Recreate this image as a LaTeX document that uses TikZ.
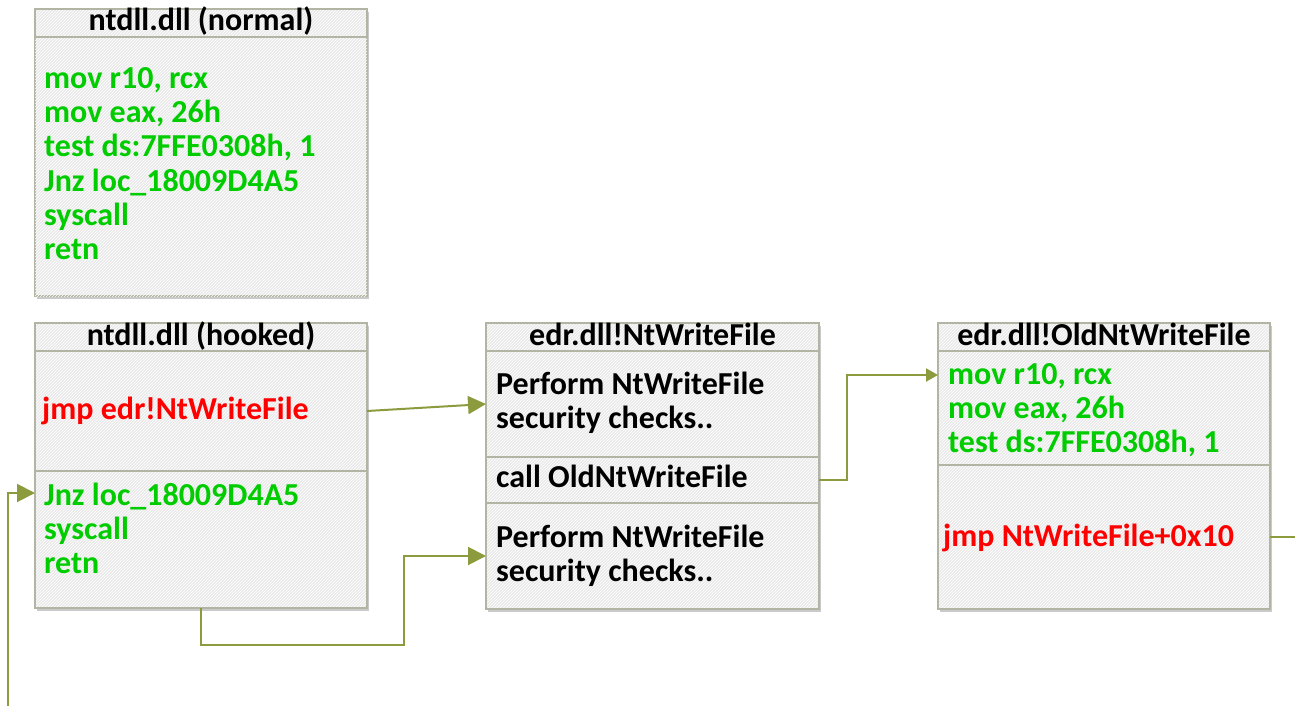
\documentclass[tikz,border=0pt]{standalone}
\usepackage{fontspec}
\setmainfont{Carlito}
\usetikzlibrary{arrows.meta,shadows,patterns,calc}

\definecolor{boxline}{RGB}{178,181,163}
\definecolor{boxfill}{RGB}{234,234,234}
\definecolor{flowcol}{RGB}{140,155,62}
\definecolor{asmgreen}{RGB}{0,204,0}
\definecolor{asmred}{RGB}{255,0,0}

\tikzset{
  frame/.style={draw=boxline, line width=1.5pt, fill=boxfill,
    postaction={pattern=north east lines, pattern color=white},
    drop shadow={shadow xshift=1.5pt, shadow yshift=-3pt, opacity=0.35, fill=black!60},
    anchor=north west, inner sep=0pt, outer sep=0pt},
  part/.style={draw=boxline, line width=1.5pt, anchor=north west,
    inner sep=0pt, outer sep=0pt},
  txt/.style={anchor=base west, inner sep=0pt,
    font=\bfseries\fontsize{32}{34}\selectfont},
  title/.style={anchor=base, inner sep=0pt,
    font=\bfseries\fontsize{32}{34}\selectfont, text=black},
  green/.style={txt, text=asmgreen},
  red/.style={txt, text=asmred},
  plain/.style={txt, text=black},
  flow/.style={draw=flowcol, line width=2pt,
    -{Triangle[length=18pt,width=18pt]}},
  smallflow/.style={draw=flowcol, line width=2pt,
    -{Triangle[length=12pt,width=13pt]}},
  wire/.style={draw=flowcol, line width=2pt},
}

\begin{document}
\begin{tikzpicture}[x=1pt,y=-1pt]
\useasboundingbox (0,0) rectangle (1295,706);

% ---------- ntdll.dll (normal) ----------
\node[frame, minimum width=332pt, minimum height=287pt] (normal) at (35,9) {};
\node[part, minimum width=332pt, minimum height=28pt] (normalhead) at (35,9) {};
\node[title] (normaltitle) at (201,31) {ntdll.dll (normal)};
\node[green] (n1) at (44,89)  {mov r10, rcx};
\node[green] (n2) at (44,123) {mov eax, 26h};
\node[green] (n3) at (44,157) {test ds:7FFE0308h, 1};
\node[green] (n4) at (44,191) {Jnz loc\_18009D4A5};
\node[green] (n5) at (44,225) {syscall};
\node[green] (n6) at (44,259) {retn};

% ---------- ntdll.dll (hooked) ----------
\node[frame, minimum width=332pt, minimum height=285pt] (hooked) at (35,323) {};
\node[part, minimum width=332pt, minimum height=28pt] (hookhead) at (35,323) {};
\node[part, minimum width=332pt, minimum height=120pt] (hookA) at (35,351) {};
\node[part, minimum width=332pt, minimum height=137pt] (hookB) at (35,471) {};
\node[title] (hooktitle) at (201,345) {ntdll.dll (hooked)};
\node[red] (h0) at (42,419) {jmp edr!NtWriteFile};
\node[green] (h1) at (44,505) {Jnz loc\_18009D4A5};
\node[green] (h2) at (44,539) {syscall};
\node[green] (h3) at (44,573) {retn};

% ---------- edr.dll!NtWriteFile ----------
\node[frame, minimum width=333pt, minimum height=286pt] (edr) at (486,323) {};
\node[part, minimum width=333pt, minimum height=28pt] (edrhead) at (486,323) {};
\node[part, minimum width=333pt, minimum height=106pt] (edrA) at (486,351) {};
\node[part, minimum width=333pt, minimum height=46pt] (edrB) at (486,457) {};
\node[part, minimum width=333pt, minimum height=106pt] (edrC) at (486,503) {};
\node[title] (edrtitle) at (652.5,345) {edr.dll!NtWriteFile};
\node[plain] (e1) at (496,394) {Perform NtWriteFile};
\node[plain] (e2) at (496,428) {security checks..};
\node[plain] (e3) at (496,487) {call OldNtWriteFile};
\node[plain] (e4) at (496,547) {Perform NtWriteFile};
\node[plain] (e5) at (496,581) {security checks..};

% ---------- edr.dll!OldNtWriteFile ----------
\node[frame, minimum width=332pt, minimum height=286pt] (old) at (938,323) {};
\node[part, minimum width=332pt, minimum height=28pt] (oldhead) at (938,323) {};
\node[part, minimum width=332pt, minimum height=114pt] (oldA) at (938,351) {};
\node[part, minimum width=332pt, minimum height=144pt] (oldB) at (938,465) {};
\node[title] (oldtitle) at (1104,345) {edr.dll!OldNtWriteFile};
\node[green] (o1) at (948,384) {mov r10, rcx};
\node[green] (o2) at (948,418) {mov eax, 26h};
\node[green] (o3) at (948,452) {test ds:7FFE0308h, 1};
\node[red] (o4) at (943,546) {jmp NtWriteFile+0x10};

% ---------- control flow ----------
\coordinate (loopin) at (8,706);
\coordinate (exitpt) at (1295,537);

\draw[flow] (hookA.east) -- (edrA.west);
\draw[flow] (hookB.south) -- ++(0,37) -| ($(edrC.west)+(-82,0)$) -- (edrC.west);
\draw[smallflow] (edrB.east) -- ++(28,0) |- ($(oldA.north west)+(0,24)$);
\draw[wire] (oldB.east) -- (exitpt);
\draw[flow] (loopin) |- ($(hookB.north west)+(0,22)$);
\end{tikzpicture}
\end{document}
